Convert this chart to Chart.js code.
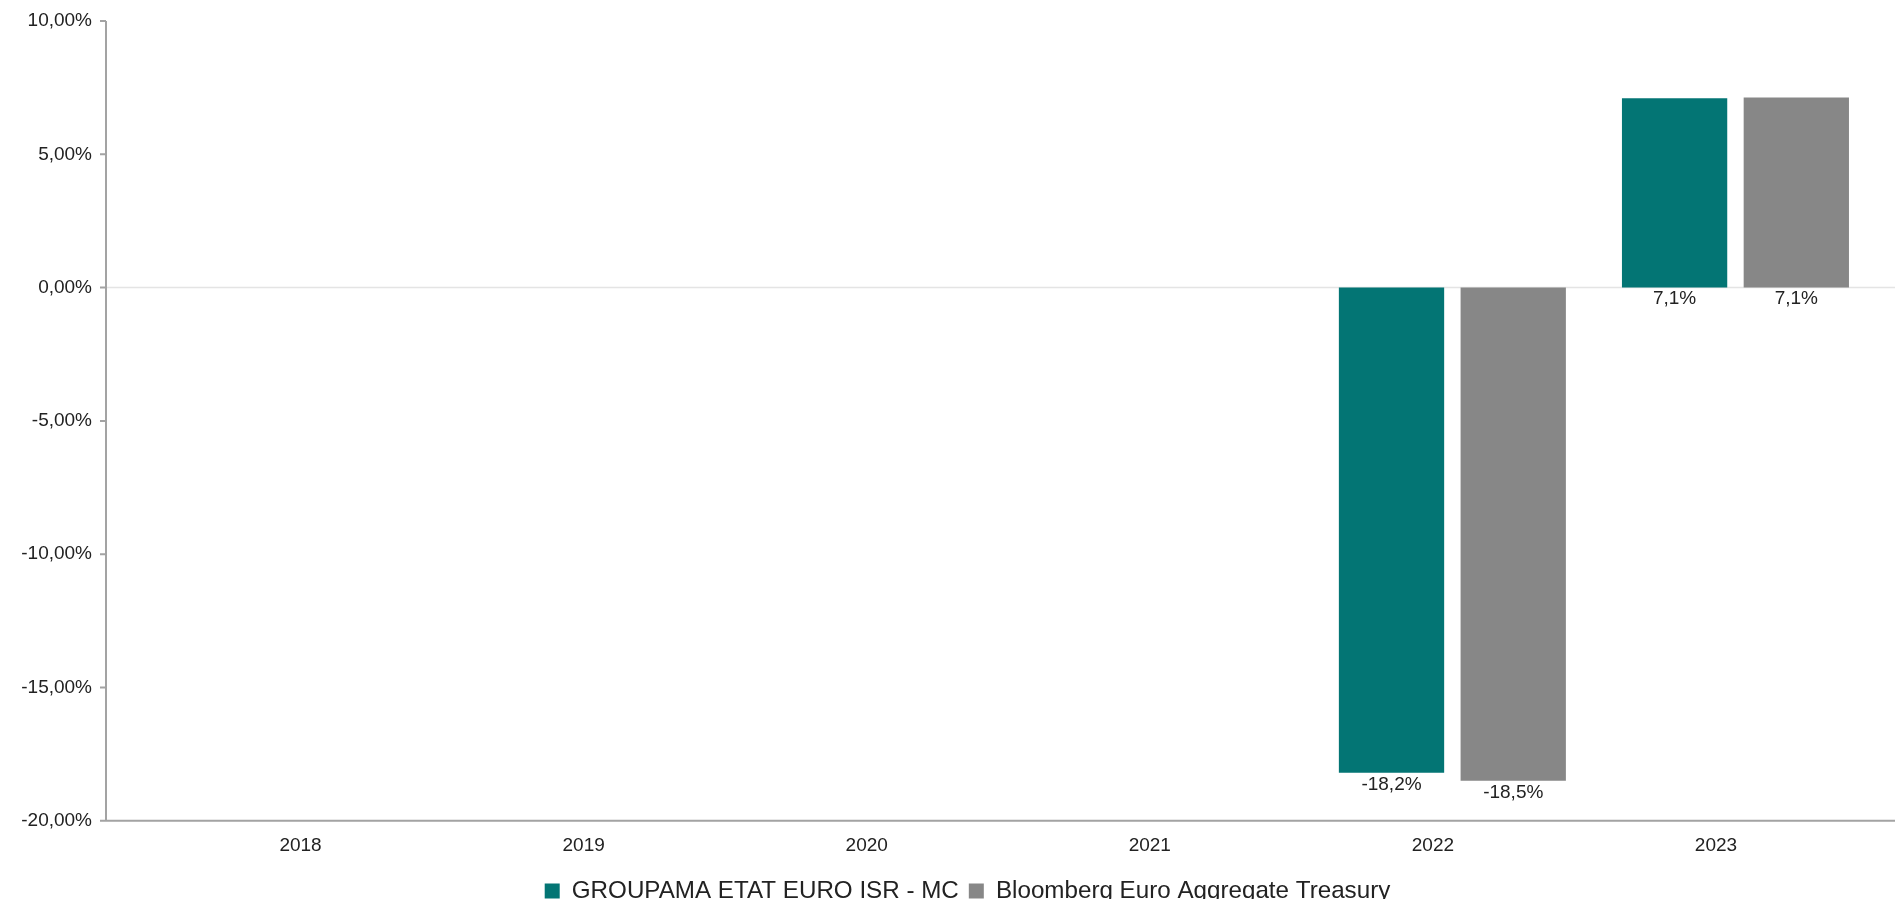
<!DOCTYPE html>
<html>
<head>
<meta charset="utf-8">
<script src="https://cdn.jsdelivr.net/npm/chart.js@4.4.0/dist/chart.umd.min.js"></script>
<style>
  html, body { margin: 0; padding: 0; background: #fff; overflow: hidden; }
  #wrap { position: relative; width: 1895px; height: 913px; }
</style>
</head>
<body>
<div id="wrap"><canvas id="chart"></canvas></div>
<script>
const years = ['2018', '2019', '2020', '2021', '2022', '2023'];
const fundName = 'GROUPAMA ETAT EURO ISR - MC';
const indexName = 'Bloomberg Euro Aggregate Treasury';
const fundValues = [null, null, null, null, -18.2, 7.1];
const indexValues = [null, null, null, null, -18.5, 7.13];
const yTicks = [-20, -15, -10, -5, 0, 5, 10];

function pct(v, d) {
    return v.toFixed(d).replace('.', ',') + '%';
}

// axis lines start left of the plot area, like the original
const axisLines = {
    id: 'axisLines',
    beforeDatasetsDraw(chart) {
        const ctx = chart.ctx;
        const y = chart.scales.y;
        const x0 = 106;
        const right = chart.width;
        ctx.save();
        ctx.strokeStyle = '#e4e4e4';
        ctx.lineWidth = 1.5;
        const yz = y.getPixelForValue(0);
        ctx.beginPath();
        ctx.moveTo(x0, yz);
        ctx.lineTo(right, yz);
        ctx.stroke();

        ctx.strokeStyle = '#a3a3a3';
        ctx.lineWidth = 2;
        ctx.beginPath();
        ctx.moveTo(x0, y.top);
        ctx.lineTo(x0, y.bottom);
        ctx.moveTo(x0 - 1, y.bottom);
        ctx.lineTo(right, y.bottom);
        y.ticks.forEach(t => {
            const py = y.getPixelForValue(t.value);
            ctx.moveTo(x0 - 6, py);
            ctx.lineTo(x0, py);
        });
        ctx.stroke();
        ctx.restore();
    }
};

const barLabels = {
    id: 'barLabels',
    afterDatasetsDraw(chart) {
        const ctx = chart.ctx;
        ctx.save();
        ctx.font = "19px 'Liberation Sans', Arial, sans-serif";
        ctx.fillStyle = '#222';
        ctx.textAlign = 'center';
        ctx.textBaseline = 'top';
        chart.data.datasets.forEach((ds, i) => {
            chart.getDatasetMeta(i).data.forEach((bar, j) => {
                const v = ds.data[j];
                if (v === null) return;
                const py = v >= 0 ? bar.base : bar.y;
                ctx.fillText(pct(v, 1), bar.x, py + 2);
            });
        });
        ctx.restore();
    }
};

Chart.defaults.font.family = "'Liberation Sans', Arial, sans-serif";
Chart.defaults.color = '#222';

var ctx = document.getElementById('chart').getContext('2d');
new Chart(ctx, {
    type: 'bar',
    data: {
        labels: years,
        datasets: [{
            label: fundName,
            data: fundValues,
            backgroundColor: '#037574',
            borderWidth: 0
        }, {
            label: indexName,
            data: indexValues,
            backgroundColor: '#878787',
            borderWidth: 0
        }]
    },
    options: {
        responsive: true,
        maintainAspectRatio: false,
        animation: false,
        categoryPercentage: 0.86,
        barPercentage: 0.865,
        layout: { padding: { left: 0, top: 21, right: -40, bottom: 0 } },
        plugins: {
            legend: {
                position: 'bottom',
                labels: {
                    boxWidth: 15,
                    boxHeight: 15,
                    padding: 10,
                    color: '#222',
                    font: { size: 24.2 }
                }
            },
            tooltip: { enabled: false }
        },
        scales: {
            x: {
                grid: { display: false, drawTicks: false },
                border: { display: false },
                ticks: { padding: 14, labelOffset: -19.5, font: { size: 19 }, color: '#222' },
                afterFit: s => { s.height = 48; }
            },
            y: {
                min: -20,
                max: 10,
                afterBuildTicks: s => { s.ticks = yTicks.map(v => ({ value: v })); },
                grid: { display: false, drawTicks: false },
                border: { display: false },
                ticks: {
                    padding: 86.5,
                    font: { size: 19 },
                    color: '#222',
                    callback: v => pct(v, 2)
                },
                afterFit: s => {
                    s.width = 178.5;
                    s.paddingTop = 11;
                    s.paddingBottom = 11;
                }
            },
            yR: {
                position: 'right',
                grid: { display: false, drawTicks: false },
                border: { display: false },
                ticks: { display: false },
                afterFit: s => { s.width = 58; }
            }
        }
    },
    plugins: [axisLines, barLabels]
});
</script>
</body>
</html>
